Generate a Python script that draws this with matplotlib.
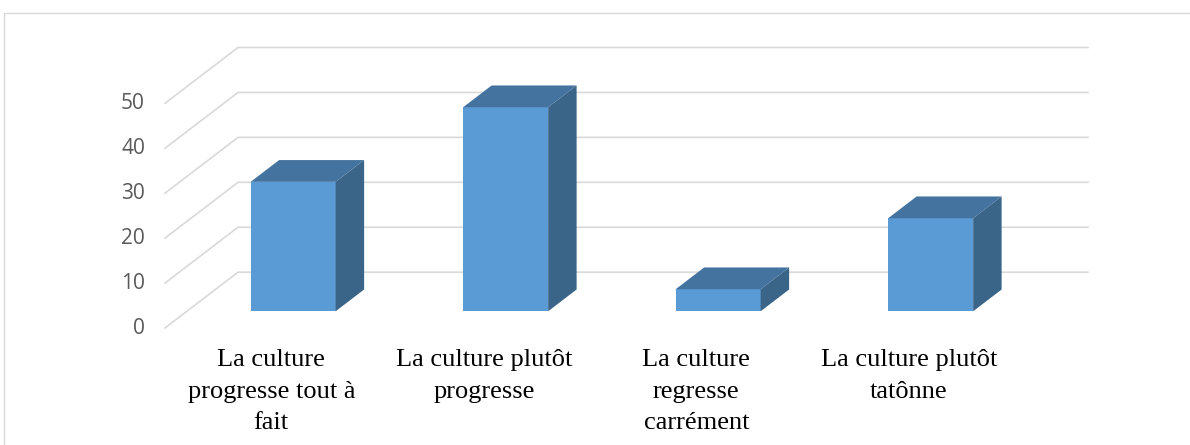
import matplotlib.pyplot as plt
from matplotlib.patches import Polygon, Rectangle

# data
categories = ["La culture\nprogresse tout à\nfait",
              "La culture plutôt\nprogresse",
              "La culture\nregresse\ncarrément",
              "La culture plutôt\ntatônne"]
values = [28.8, 45.4, 4.9, 20.7]
yticks = [0, 10, 20, 30, 40, 50]

# oblique "3D" projection: full depth shift in data units
DX = 0.3435
DY = 12.42
bar_front, bar_back = 0.30, 0.69
bar_width = 0.4

front_col = '#5b9bd5'
top_col = '#4473a0'
side_col = '#3a6588'
grid_col = '#d9d9d9'

W, H = 1190, 445
fig = plt.figure(figsize=(W / 100, H / 100), dpi=100)
ax = fig.add_axes([165 / W, (H - 328) / H, (1088 - 165) / W, (328 - 47.5) / H])
ax.set_xlim(-0.5, len(values) - 0.5 + DX)
ax.set_ylim(0, yticks[-1] + DY)
ax.axis('off')

# outer chart border (runs off the right and bottom edges)
fig.patches.append(Rectangle((4 / W, -0.2), 1.2, (H - 13) / H + 0.2, transform=fig.transFigure,
                             fill=False, edgecolor=grid_col, linewidth=1.0))

# floor diagonals + back wall gridlines
x0, x1 = -0.5, len(values) - 0.5
for v in yticks:
    ax.plot([x0, x0 + DX, x1 + DX], [v, v + DY, v + DY], color=grid_col,
            linewidth=1.2, clip_on=False, zorder=1)
    ax.annotate(str(v), (x0, v), xytext=(-20, 0), textcoords='offset pixels',
                ha='right', va='center', fontsize=15, color='#595959',
                family='Open Sans')

# bars: front faces through ax.bar, top and side as polygons
dd = bar_back - bar_front
for i, v in enumerate(values):
    cx = i + bar_front * DX
    base = bar_front * DY
    ax.bar(cx, v, width=bar_width, bottom=base, color=front_col, zorder=3)
    l, r = cx - bar_width / 2, cx + bar_width / 2
    t = base + v
    ax.add_patch(Polygon([(l, t), (r, t), (r + dd * DX, t + dd * DY), (l + dd * DX, t + dd * DY)],
                         closed=True, facecolor=top_col, edgecolor='none', zorder=3))
    ax.add_patch(Polygon([(r, base), (r, t), (r + dd * DX, t + dd * DY), (r + dd * DX, base + dd * DY)],
                         closed=True, facecolor=side_col, edgecolor='none', zorder=3))

# category labels
for i, lab in enumerate(categories):
    ax.annotate(lab, (i, 0), xytext=(0, -21), textcoords='offset pixels',
                ha='center', va='top', fontsize=19, family='Liberation Serif',
                color='black', linespacing=1.56, multialignment='center',
                annotation_clip=False)

fig.savefig('out.png', dpi=100)
